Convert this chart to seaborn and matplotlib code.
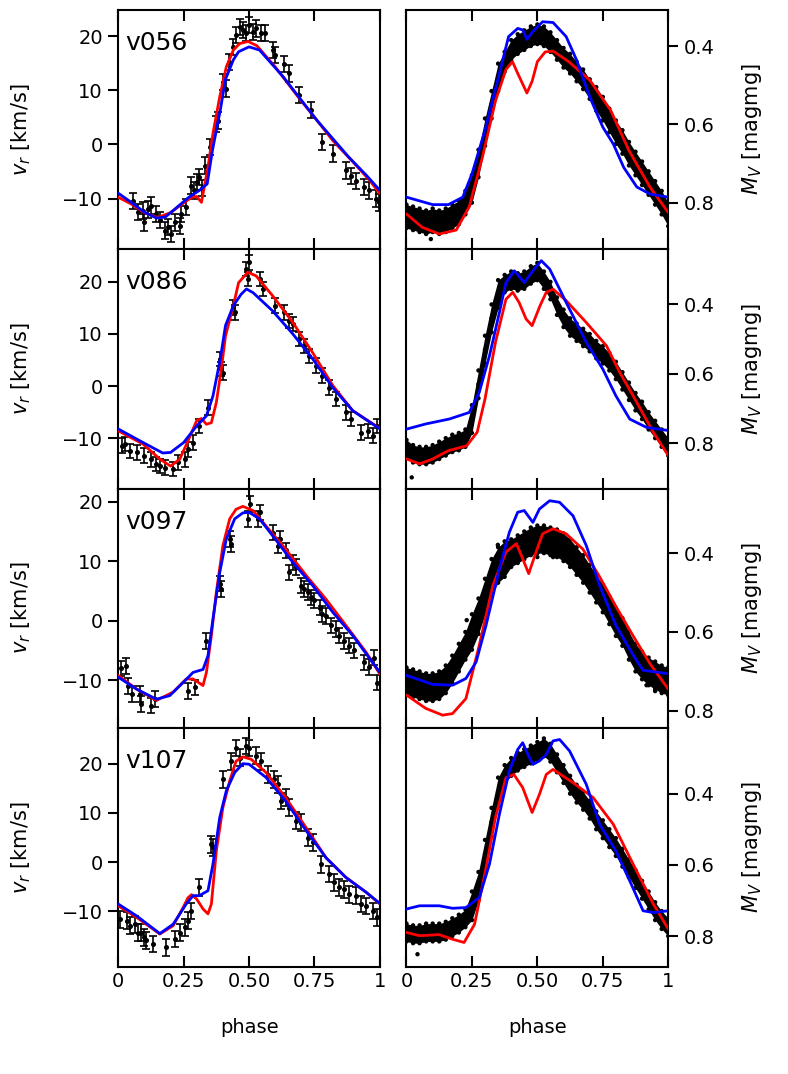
import numpy as np
import pandas as pd
import matplotlib
matplotlib.use('Agg')
import matplotlib.pyplot as plt
import seaborn as sns

sns.set_style('ticks')
plt.rcParams['font.family'] = ['DejaVu Sans']
plt.rcParams['mathtext.fontset'] = 'dejavusans'
for key in ['text.color', 'axes.labelcolor', 'xtick.color', 'ytick.color', 'axes.edgecolor']:
    plt.rcParams[key] = 'black'

star_names = ['v056', 'v086', 'v097', 'v107']
xtick_vals = [0, 0.25, 0.5, 0.75, 1]
xtick_labels = ['0', '0.25', '0.50', '0.75', '1']
rv_ticks = [-10, 0, 10, 20]
mag_ticks = [0.4, 0.6, 0.8]

# ---------------- radial velocity observations ----------------
v056_rv_phase = [0.055, 0.075, 0.095, 0.10, 0.115, 0.127, 0.146, 0.16, 0.178, 0.19,
                 0.20, 0.216, 0.235, 0.24, 0.26, 0.28, 0.29, 0.30, 0.31, 0.32,
                 0.33, 0.35, 0.375, 0.38, 0.40, 0.41, 0.425, 0.44, 0.45, 0.464,
                 0.476, 0.49, 0.50, 0.515, 0.527, 0.546, 0.56, 0.59, 0.60, 0.635,
                 0.654, 0.69, 0.737, 0.78, 0.82, 0.87, 0.89, 0.91, 0.94, 0.96,
                 0.985, 0.995]
v056_rv = [-10.4, -12.5, -12.2, -14.4, -12.0, -11.3, -12.8, -14.0, -15.9, -15.3,
           -16.5, -14.4, -15.0, -12.8, -11.6, -7.6, -8.5, -7.0, -6.0, -8.0,
           -3.9, -0.5, 3.8, 4.4, 11.5, 10.3, 15.2, 18.0, 20.2, 21.7,
           21.1, 20.5, 22.0, 20.8, 21.4, 20.5, 20.5, 17.4, 16.5, 14.9,
           13.1, 9.1, 6.3, 0.4, -1.7, -4.8, -5.8, -6.7, -7.8, -8.5,
           -10.0, -10.7]
v056_rv_err = 1.5

v086_rv_phase = [0.013, 0.025, 0.044, 0.07, 0.10, 0.127, 0.146, 0.159, 0.178, 0.21,
                 0.229, 0.254, 0.267, 0.286, 0.31, 0.343, 0.388, 0.394, 0.40, 0.44,
                 0.445, 0.49, 0.495, 0.50, 0.54, 0.553, 0.60, 0.635, 0.654, 0.667,
                 0.69, 0.71, 0.73, 0.756, 0.78, 0.807, 0.832, 0.87, 0.89, 0.928,
                 0.953, 0.972, 0.99]
v086_rv = [-11.4, -11.1, -12.4, -12.7, -13.3, -14.0, -14.9, -15.3, -15.6, -15.9,
           -14.6, -14.0, -12.1, -10.8, -7.6, -4.1, 5.2, 3.3, 2.6, 15.1,
           14.1, 22.4, 20.5, 23.7, 20.5, 18.6, 15.4, 14.1, 12.5, 11.9,
           9.0, 7.7, 5.8, 3.9, 2.0, -0.3, -2.5, -5.0, -6.3, -8.9,
           -8.6, -9.5, -7.6]
v086_rv_err = 1.4

v097_rv_phase = [0.009, 0.028, 0.038, 0.051, 0.083, 0.089, 0.127, 0.14, 0.267, 0.292,
                 0.337, 0.388, 0.394, 0.426, 0.432, 0.496, 0.502, 0.534, 0.54, 0.59,
                 0.61, 0.62, 0.64, 0.654, 0.667, 0.68, 0.70, 0.71, 0.724, 0.737,
                 0.75, 0.77, 0.78, 0.794, 0.813, 0.832, 0.845, 0.864, 0.883, 0.902,
                 0.94, 0.96, 0.978, 0.99]
v097_rv = [-8.0, -7.6, -11.0, -12.3, -12.3, -14.0, -14.3, -13.2, -11.8, -11.2,
           -3.4, 6.2, 5.3, 13.7, 12.9, 17.1, 19.6, 17.1, 18.2, 14.8,
           12.6, 13.7, 11.8, 8.1, 9.8, 9.0, 5.9, 5.3, 4.8, 3.9,
           3.4, 2.2, 1.1, 0.8, -0.8, -1.4, -2.5, -3.4, -4.2, -5.0,
           -7.0, -7.8, -6.2, -10.4]
v097_rv_err = 1.3

v107_rv_phase = [0.006, 0.032, 0.044, 0.064, 0.076, 0.089, 0.10, 0.108, 0.133, 0.184,
                 0.216, 0.235, 0.254, 0.267, 0.28, 0.31, 0.356, 0.362, 0.40, 0.432,
                 0.45, 0.464, 0.49, 0.50, 0.527, 0.546, 0.572, 0.597, 0.61, 0.622,
                 0.64, 0.654, 0.68, 0.70, 0.724, 0.743, 0.775, 0.807, 0.826, 0.845,
                 0.864, 0.883, 0.91, 0.928, 0.947, 0.972, 0.99]
v107_rv = [-11.6, -11.9, -12.9, -12.6, -14.3, -14.3, -15.3, -15.9, -16.6, -17.3,
           -15.6, -14.3, -13.2, -11.9, -9.9, -5.1, 3.6, 3.0, 16.8, 20.5,
           23.2, 21.2, 23.6, 23.2, 21.6, 20.5, 17.8, 16.8, 15.8, 12.4,
           13.1, 11.1, 8.4, 8.0, 5.0, 4.0, -0.4, -2.4, -4.1, -5.1,
           -5.5, -6.5, -6.8, -8.5, -8.9, -9.9, -11.2]
v107_rv_err = 1.7

# ---------------- radial velocity models ----------------
v056_rv_red_phase = [0.0, 0.05, 0.10, 0.15, 0.20, 0.25, 0.28, 0.30, 0.318, 0.343, 0.362,
                     0.388, 0.413, 0.44, 0.464, 0.496, 0.53, 0.60, 0.69, 0.76, 0.82,
                     0.90, 0.96, 1.0]
v056_rv_red = [-9.75, -11.0, -12.6, -13.5, -12.6, -10.8, -9.8, -9.6, -10.7, -4.2, 2.0,
               8.8, 14.3, 17.4, 18.6, 19.0, 18.2, 14.3, 8.6, 4.4, 0.7,
               -3.4, -6.6, -9.1]
v056_rv_blue_phase = [0.0, 0.05, 0.10, 0.146, 0.18, 0.21, 0.27, 0.31, 0.34, 0.36, 0.39,
                      0.41, 0.44, 0.46, 0.50, 0.54, 0.63, 0.76, 0.88, 0.95, 1.0]
v056_rv_blue = [-9.0, -10.7, -12.5, -13.6, -13.4, -12.2, -9.75, -8.5, -7.3, -1.1, 6.3,
                12.0, 15.6, 17.1, 18.0, 17.4, 12.5, 4.4, -2.3, -5.8, -8.5]

v086_rv_red_phase = [0.0, 0.095, 0.16, 0.20, 0.235, 0.27, 0.30, 0.318, 0.337, 0.356, 0.375,
                     0.394, 0.41, 0.44, 0.46, 0.495, 0.527, 0.59, 0.667, 0.743, 0.82,
                     0.896, 1.0]
v086_rv_red = [-8.55, -11.1, -14.0, -15.3, -14.0, -10.1, -6.6, -6.2, -7.3, -7.0, -3.1,
               3.3, 9.6, 15.4, 19.8, 21.8, 21.1, 17.3, 12.2, 6.4, 0.1,
               -4.7, -8.1]
v086_rv_blue_phase = [0.0, 0.095, 0.17, 0.20, 0.25, 0.30, 0.337, 0.362, 0.39, 0.41, 0.44,
                      0.47, 0.49, 0.515, 0.59, 0.667, 0.743, 0.82, 0.896, 1.0]
v086_rv_blue = [-8.2, -10.8, -12.8, -12.7, -10.8, -7.6, -5.7, -1.9, 5.2, 11.6, 15.4,
                17.6, 18.6, 17.9, 14.4, 10.0, 5.2, -0.3, -4.7, -8.2]

v097_rv_red_phase = [0.0, 0.07, 0.146, 0.21, 0.26, 0.286, 0.324, 0.337, 0.356, 0.375, 0.40,
                     0.426, 0.45, 0.476, 0.515, 0.565, 0.64, 0.718, 0.794, 0.87, 0.947,
                     1.0]
v097_rv_red = [-9.2, -11.5, -13.4, -12.0, -9.8, -9.8, -10.9, -8.7, -2.5, 4.8, 12.6,
               17.1, 18.7, 19.2, 18.5, 15.9, 12.0, 7.6, 3.6, -0.8, -5.3,
               -9.0]
v097_rv_blue_phase = [0.0, 0.07, 0.146, 0.197, 0.248, 0.286, 0.324, 0.343, 0.362, 0.388,
                      0.413, 0.445, 0.476, 0.50, 0.54, 0.60, 0.667, 0.743, 0.82, 0.896, 1.0]
v097_rv_blue = [-9.5, -11.5, -13.2, -12.6, -10.4, -8.7, -8.2, -5.9, 0.3, 8.1,
                13.7, 17.1, 18.1, 18.2, 17.1, 13.7, 9.8, 5.9, 1.4, -2.5, -8.7]

v107_rv_red_phase = [0.0, 0.07, 0.159, 0.21, 0.248, 0.267, 0.28, 0.30, 0.324, 0.343, 0.356,
                     0.375, 0.40, 0.426, 0.45, 0.476, 0.508, 0.565, 0.64, 0.718, 0.794,
                     0.87, 0.947, 1.0]
v107_rv_red = [-8.85, -11.2, -14.6, -12.9, -9.2, -7.2, -6.6, -7.5, -9.5, -10.5, -8.5,
               2.3, 11.1, 16.5, 20.5, 21.4, 20.9, 18.2, 13.1, 7.0, 0.9,
               -3.1, -6.1, -8.5]
v107_rv_blue_phase = [0.0, 0.07, 0.159, 0.21, 0.26, 0.286, 0.31, 0.343, 0.362, 0.388, 0.413,
                      0.445, 0.476, 0.50, 0.565, 0.64, 0.718, 0.794, 0.87, 0.947, 1.0]
v107_rv_blue = [-8.5, -10.9, -14.5, -12.6, -8.5, -6.8, -6.8, -5.8, -0.4, 9.1, 14.5,
                18.2, 20.0, 19.9, 17.2, 12.4, 6.4, 0.9, -3.1, -6.1, -8.4]

# ---------------- photometry (band centre and half width) ----------------
phot_phase = [0.0, 0.025, 0.05, 0.075, 0.1, 0.125, 0.15, 0.175, 0.2, 0.225,
              0.25, 0.275, 0.3, 0.325, 0.35, 0.375, 0.4, 0.425, 0.45, 0.475,
              0.5, 0.525, 0.55, 0.575, 0.6, 0.625, 0.65, 0.675, 0.7, 0.725,
              0.75, 0.775, 0.8, 0.825, 0.85, 0.875, 0.9, 0.925, 0.95, 0.975, 1.0]

v056_phot_mid = [0.835, 0.84, 0.845, 0.85, 0.845, 0.85, 0.845, 0.835, 0.825, 0.80,
                 0.765, 0.70, 0.62, 0.55, 0.48, 0.44, 0.41, 0.395, 0.385, 0.375,
                 0.37, 0.375, 0.39, 0.41, 0.43, 0.445, 0.465, 0.485, 0.51, 0.535,
                 0.56, 0.59, 0.62, 0.645, 0.675, 0.70, 0.725, 0.75, 0.775, 0.80, 0.83]
v056_phot_hw = [0.03, 0.03, 0.03, 0.03, 0.03, 0.03, 0.03, 0.03, 0.03, 0.03,
                0.035, 0.035, 0.035, 0.035, 0.035, 0.025, 0.025, 0.025, 0.025, 0.025,
                0.025, 0.025, 0.025, 0.025, 0.025, 0.025, 0.025, 0.025, 0.025, 0.03,
                0.03, 0.03, 0.03, 0.03, 0.03, 0.03, 0.03, 0.03, 0.03, 0.03, 0.03]

v086_phot_mid = [0.815, 0.83, 0.835, 0.835, 0.83, 0.82, 0.81, 0.80, 0.795, 0.785,
                 0.73, 0.63, 0.53, 0.44, 0.37, 0.34, 0.33, 0.335, 0.33, 0.315,
                 0.305, 0.33, 0.36, 0.405, 0.44, 0.465, 0.48, 0.495, 0.51, 0.53,
                 0.545, 0.565, 0.59, 0.62, 0.65, 0.68, 0.705, 0.735, 0.76, 0.785, 0.81]
v086_phot_hw = [0.025, 0.025, 0.025, 0.025, 0.025, 0.025, 0.025, 0.025, 0.025, 0.025,
                0.04, 0.04, 0.04, 0.04, 0.04, 0.025, 0.025, 0.025, 0.025, 0.025,
                0.025, 0.025, 0.025, 0.025, 0.025, 0.025, 0.025, 0.025, 0.025, 0.025,
                0.025, 0.025, 0.025, 0.025, 0.025, 0.025, 0.025, 0.025, 0.025, 0.025, 0.025]

v097_phot_mid = [0.725, 0.73, 0.735, 0.74, 0.74, 0.735, 0.72, 0.695, 0.665, 0.635,
                 0.60, 0.56, 0.51, 0.46, 0.43, 0.415, 0.40, 0.39, 0.38, 0.37,
                 0.365, 0.365, 0.37, 0.375, 0.385, 0.40, 0.42, 0.44, 0.465, 0.49,
                 0.515, 0.545, 0.575, 0.60, 0.635, 0.665, 0.685, 0.70, 0.71, 0.72, 0.725]
v097_phot_hw = [0.035, 0.035, 0.035, 0.035, 0.035, 0.035, 0.035, 0.035, 0.035, 0.035,
                0.045, 0.045, 0.045, 0.045, 0.045, 0.045, 0.035, 0.035, 0.035, 0.035,
                0.035, 0.035, 0.035, 0.035, 0.035, 0.035, 0.035, 0.035, 0.035, 0.035,
                0.035, 0.035, 0.035, 0.035, 0.035, 0.035, 0.035, 0.035, 0.035, 0.035, 0.035]

v107_phot_mid = [0.79, 0.795, 0.795, 0.79, 0.79, 0.79, 0.785, 0.775, 0.765, 0.75,
                 0.715, 0.66, 0.57, 0.48, 0.395, 0.345, 0.325, 0.31, 0.30, 0.29,
                 0.28, 0.27, 0.285, 0.315, 0.345, 0.375, 0.40, 0.42, 0.445, 0.475,
                 0.50, 0.525, 0.55, 0.58, 0.61, 0.64, 0.67, 0.70, 0.73, 0.755, 0.775]
v107_phot_hw = [0.025, 0.025, 0.025, 0.025, 0.025, 0.025, 0.025, 0.025, 0.025, 0.025,
                0.04, 0.04, 0.04, 0.04, 0.04, 0.025, 0.025, 0.025, 0.025, 0.025,
                0.025, 0.025, 0.025, 0.025, 0.025, 0.025, 0.025, 0.025, 0.025, 0.025,
                0.025, 0.025, 0.025, 0.025, 0.025, 0.025, 0.025, 0.025, 0.025, 0.025, 0.025]

v056_out_phase = [0.093]
v056_out_mag = [0.893]
v086_out_phase = [0.02]
v086_out_mag = [0.898]
v097_out_phase = [0.349, 0.56, 0.917, 0.95, 0.50, 0.23]
v097_out_mag = [0.379, 0.41, 0.735, 0.75, 0.41, 0.57]
v107_out_phase = [0.042]
v107_out_mag = [0.851]

# ---------------- light curve models ----------------
v056_mag_red_phase = [0.0, 0.06, 0.125, 0.19, 0.24, 0.29, 0.34, 0.38, 0.405, 0.425, 0.46,
                      0.48, 0.50, 0.53, 0.56, 0.62, 0.70, 0.78, 0.85, 0.93, 1.0]
v056_mag_red = [0.829, 0.863, 0.88, 0.87, 0.81, 0.684, 0.54, 0.46, 0.44, 0.47, 0.52,
                0.49, 0.44, 0.415, 0.413, 0.44, 0.487, 0.564, 0.667, 0.76, 0.825]
v056_mag_blue_phase = [0.0, 0.1, 0.16, 0.215, 0.25, 0.30, 0.355, 0.39, 0.425, 0.444, 0.46,
                       0.483, 0.52, 0.56, 0.61, 0.65, 0.70, 0.75, 0.79, 0.83, 0.88, 0.93, 1.0]
v056_mag_blue = [0.786, 0.805, 0.805, 0.786, 0.727, 0.615, 0.47, 0.376, 0.355, 0.359, 0.383,
                 0.363, 0.338, 0.34, 0.376, 0.436, 0.53, 0.607, 0.65, 0.71, 0.76, 0.778, 0.786]

v086_mag_red_phase = [0.0, 0.05, 0.1, 0.16, 0.23, 0.27, 0.30, 0.34, 0.38, 0.406, 0.43,
                      0.457, 0.48, 0.51, 0.534, 0.56, 0.61, 0.687, 0.764, 0.815, 0.866,
                      0.943, 1.0]
v086_mag_red = [0.845, 0.859, 0.845, 0.821, 0.807, 0.768, 0.672, 0.509, 0.385, 0.365, 0.394,
                0.442, 0.461, 0.404, 0.365, 0.356, 0.389, 0.452, 0.519, 0.596, 0.663,
                0.768, 0.835]
v086_mag_blue_phase = [0.0, 0.074, 0.163, 0.24, 0.278, 0.317, 0.355, 0.38, 0.412, 0.45,
                       0.483, 0.515, 0.547, 0.61, 0.687, 0.75, 0.80, 0.853, 0.917, 1.0]
v086_mag_blue = [0.759, 0.744, 0.730, 0.711, 0.653, 0.548, 0.423, 0.337, 0.303, 0.337,
                 0.303, 0.274, 0.298, 0.394, 0.509, 0.586, 0.663, 0.730, 0.754, 0.763]

v097_mag_red_phase = [0.0, 0.074, 0.138, 0.176, 0.227, 0.278, 0.33, 0.38, 0.42, 0.444,
                      0.467, 0.495, 0.52, 0.56, 0.61, 0.674, 0.738, 0.80, 0.866, 0.93, 1.0]
v097_mag_red = [0.76, 0.794, 0.811, 0.807, 0.769, 0.634, 0.482, 0.397, 0.376, 0.414,
                0.452, 0.397, 0.351, 0.338, 0.351, 0.39, 0.46, 0.535, 0.61, 0.68, 0.745]
v097_mag_blue_phase = [0.0, 0.1, 0.176, 0.227, 0.266, 0.304, 0.355, 0.393, 0.425, 0.45,
                       0.483, 0.508, 0.547, 0.585, 0.636, 0.687, 0.738, 0.80, 0.866, 0.904, 1.0]
v097_mag_blue = [0.71, 0.733, 0.735, 0.718, 0.676, 0.583, 0.44, 0.347, 0.296, 0.292,
                 0.322, 0.288, 0.267, 0.271, 0.305, 0.381, 0.482, 0.583, 0.659, 0.697, 0.706]

v107_mag_red_phase = [0.0, 0.05, 0.125, 0.176, 0.22, 0.26, 0.304, 0.34, 0.38, 0.41, 0.444,
                      0.48, 0.508, 0.534, 0.56, 0.636, 0.713, 0.79, 0.866, 0.943, 1.0]
v107_mag_red = [0.79, 0.799, 0.796, 0.809, 0.818, 0.767, 0.608, 0.467, 0.355, 0.346, 0.383,
                0.453, 0.402, 0.346, 0.332, 0.369, 0.411, 0.486, 0.598, 0.71, 0.78]
v107_mag_blue_phase = [0.0, 0.05, 0.125, 0.176, 0.227, 0.278, 0.317, 0.355, 0.393, 0.425,
                       0.444, 0.464, 0.483, 0.508, 0.534, 0.56, 0.585, 0.623, 0.687, 0.738,
                       0.80, 0.853, 0.904, 0.943, 1.0]
v107_mag_blue = [0.724, 0.715, 0.715, 0.722, 0.72, 0.692, 0.598, 0.458, 0.336, 0.276,
                 0.257, 0.29, 0.318, 0.308, 0.29, 0.252, 0.248, 0.28, 0.374, 0.486,
                 0.561, 0.645, 0.729, 0.734, 0.729]

# axis ranges
rv_limits = [(-19.35, 24.8), (-19.6, 26.2), (-18.0, 22.2), (-21.3, 27.3)]
mag_limits = [(0.919, 0.308), (0.930, 0.241), (0.843, 0.236), (0.887, 0.215)]

g = globals()
fig, axes = plt.subplots(4, 2, figsize=(7.88, 10.74), dpi=100)
fig.subplots_adjust(left=0.150, right=0.848, top=0.9907, bottom=0.0996,
                    hspace=0, wspace=0.1015)

for i, name in enumerate(star_names):
    axl, axr = axes[i, 0], axes[i, 1]

    # ---- radial velocity panel ----
    axl.errorbar(g[name + '_rv_phase'], g[name + '_rv'], yerr=g[name + '_rv_err'],
                 fmt='o', ms=2.6, color='k', ecolor='k', elinewidth=1.2,
                 capsize=2.6, capthick=1.2, zorder=2)
    sns.lineplot(x=g[name + '_rv_red_phase'], y=g[name + '_rv_red'], color='red',
                 lw=2.0, ax=axl, estimator=None, sort=False, legend=False, zorder=3)
    sns.lineplot(x=g[name + '_rv_blue_phase'], y=g[name + '_rv_blue'], color='blue',
                 lw=2.0, ax=axl, estimator=None, sort=False, legend=False, zorder=4)
    axl.set_xlim(0, 1)
    axl.set_ylim(*rv_limits[i])
    axl.set_yticks(rv_ticks)
    axl.set_ylabel(r'$v_r$ [km/s]', fontsize=15)
    axl.yaxis.set_label_coords(-0.325, 0.5)
    axl.text(0.028, 0.862, name, transform=axl.transAxes, fontsize=18, va='center')
    axl.tick_params(axis='y', direction='out', length=7.5, width=1.5, labelsize=14)

    # ---- light curve panel ----
    mid = np.array(g[name + '_phot_mid'])
    hw = np.array(g[name + '_phot_hw'])
    axr.fill_between(phot_phase, mid - hw, mid + hw, color='k', lw=0, zorder=1)
    for edge in (mid - hw, mid, mid + hw):
        sns.scatterplot(x=phot_phase, y=edge, color='k', s=10, edgecolor='none',
                        ax=axr, legend=False, zorder=2)
    sns.scatterplot(x=g[name + '_out_phase'], y=g[name + '_out_mag'], color='k', s=10,
                    edgecolor='none', ax=axr, legend=False, zorder=2)
    sns.lineplot(x=g[name + '_mag_red_phase'], y=g[name + '_mag_red'], color='red',
                 lw=2.0, ax=axr, estimator=None, sort=False, legend=False, zorder=3)
    sns.lineplot(x=g[name + '_mag_blue_phase'], y=g[name + '_mag_blue'], color='blue',
                 lw=2.0, ax=axr, estimator=None, sort=False, legend=False, zorder=4)
    axr.set_xlim(0, 1)
    axr.set_ylim(*mag_limits[i])
    axr.yaxis.tick_right()
    axr.yaxis.set_label_position('right')
    axr.set_yticks(mag_ticks)
    axr.set_yticklabels(['0.4', '0.6', '0.8'])
    axr.set_ylabel(r'$M_V$ [magmg]', fontsize=15)
    axr.yaxis.set_label_coords(1.275, 0.5)
    axr.tick_params(axis='y', direction='out', length=7.5, width=1.5, labelsize=14,
                    left=False, right=True)

    for ax in (axl, axr):
        ax.set_xticks(xtick_vals)
        ax.tick_params(axis='x', direction='in', top=True, bottom=True, length=8,
                       width=1.5, labelsize=14)
        for sp in ax.spines.values():
            sp.set_visible(True)
            sp.set_linewidth(1.5)
            sp.set_color('black')
        if i == len(star_names) - 1:
            ax.set_xticklabels(xtick_labels)
            ax.set_xlabel('phase', fontsize=14)
            ax.xaxis.set_label_coords(0.5, -0.215)
        else:
            ax.set_xticklabels([])
            ax.set_xlabel('')

fig.savefig('out.png', dpi=100)
